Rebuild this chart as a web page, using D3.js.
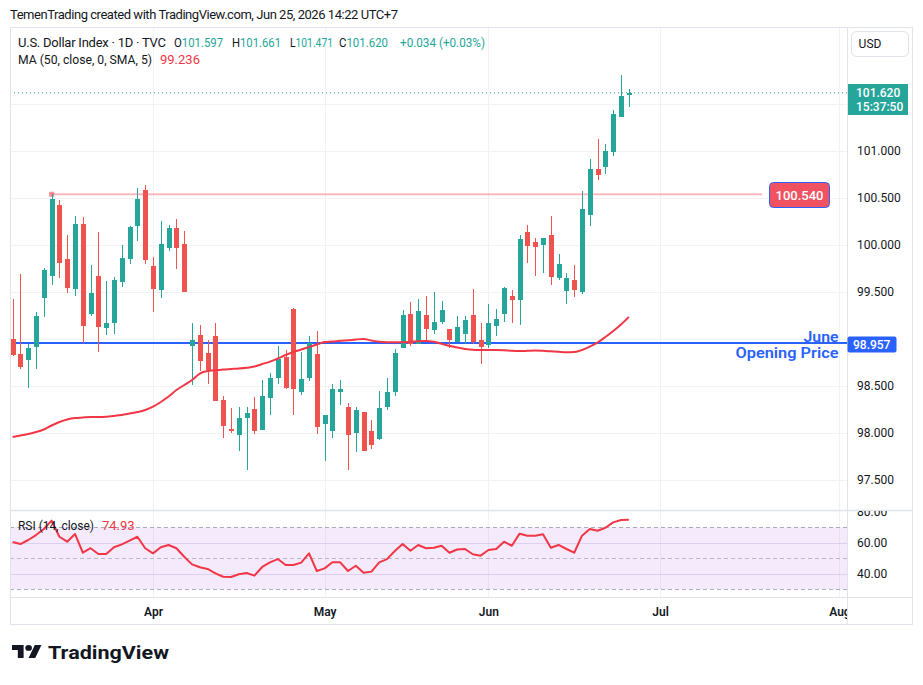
<!DOCTYPE html>
<html><head><meta charset="utf-8">
<script src="https://cdn.jsdelivr.net/npm/d3@7"></script>
<style>
body{margin:0;background:#fff}
svg{display:block}
text{font-family:Roboto,"Noto Sans",sans-serif}
</style>
</head><body>
<svg id="c" width="923" height="685"></svg>
<script>
// ---------------- DATA ----------------
const firstDay = "2026-03-06";
const lastDay = "2026-08-31";
const opens = [99.003,98.844,98.777,98.918,99.439,99.673,100.426,99.851,99.535,100.223,
99.269,99.670,99.120,99.173,99.610,99.854,100.205,100.585,99.777,99.525,
99.971,100.178,100.011,98.929,99.043,98.851,99.032,98.351,98.043,97.982,
98.163,98.255,98.032,98.376,98.588,98.809,99.319,98.440,98.588,98.840,
98.099,98.025,98.440,98.280,98.003,98.224,98.021,97.936,98.280,98.440,
98.908,99.266,98.944,99.255,99.096,99.181,99.106,98.971,99.053,99.255,
98.989,98.936,99.138,99.266,99.458,99.415,100.138,100.032,100.000,100.106,
99.649,99.514,99.628,99.500,100.319,100.809,100.830,100.989,101.362,101.597];
const highs = [99.425,99.692,98.944,99.287,99.755,100.540,100.479,100.106,100.309,100.298,
99.787,100.142,99.617,99.656,100.000,100.202,100.606,100.638,99.869,100.255,
100.213,100.277,100.149,99.167,99.149,98.989,99.167,98.394,98.269,98.277,
98.277,98.380,98.564,98.642,98.926,98.883,99.333,98.862,99.032,99.085,
98.192,98.521,98.564,98.316,98.280,98.224,98.138,98.447,98.585,98.894,
99.309,99.394,99.425,99.458,99.500,99.404,99.106,99.245,99.245,99.532,
99.167,99.372,99.319,99.553,99.521,100.106,100.213,100.075,100.075,100.309,
99.904,99.702,99.787,100.574,100.915,101.128,101.074,101.436,101.809,101.661];
const lows = [98.822,98.684,98.482,98.681,99.237,99.578,99.649,99.493,99.461,98.954,
99.248,98.865,99.043,99.053,99.557,99.801,100.046,99.801,99.291,99.439,
99.940,99.748,99.503,98.511,98.660,98.521,98.344,97.950,97.997,97.812,
97.606,97.989,98.032,98.192,98.521,98.465,98.192,98.404,98.556,97.989,
97.705,97.950,98.298,97.606,97.795,97.812,97.830,97.926,98.245,98.397,
98.908,98.929,98.944,98.979,99.053,99.160,98.904,98.971,98.947,98.947,
98.734,98.904,99.032,99.181,99.171,99.149,99.812,99.670,99.702,99.575,
99.628,99.372,99.447,99.479,100.202,100.691,100.755,100.947,101.362,101.471];
const closes = [98.830,98.705,98.908,99.245,99.734,100.489,99.812,99.546,100.223,99.142,
99.486,99.131,99.167,99.628,99.862,100.192,100.489,99.840,99.535,100.011,
100.178,99.971,99.503,98.986,98.769,98.670,98.344,98.078,98.025,98.160,
98.210,98.025,98.394,98.585,98.787,98.476,98.468,98.575,98.954,98.067,
98.192,98.468,98.468,97.982,98.245,97.812,97.876,98.266,98.436,98.851,
99.255,98.944,99.298,99.110,99.181,99.309,98.989,99.128,99.202,98.968,
98.918,99.167,99.213,99.543,99.415,100.064,99.989,99.979,100.075,99.663,
99.798,99.649,99.521,100.383,100.809,100.745,101.000,101.394,101.585,101.620];
const ma50 = [97.957,97.973,97.989,98.011,98.037,98.080,98.117,98.144,98.160,98.165,
98.170,98.170,98.173,98.181,98.191,98.207,98.223,98.245,98.280,98.330,
98.388,98.457,98.511,98.564,98.633,98.660,98.667,98.676,98.681,98.686,
98.694,98.707,98.734,98.759,98.793,98.830,98.862,98.888,98.915,98.941,
98.968,98.973,98.981,98.987,98.995,99.000,98.984,98.970,98.965,98.965,
98.966,98.971,98.977,98.979,98.970,98.950,98.928,98.909,98.894,98.885,
98.883,98.883,98.883,98.880,98.874,98.872,98.874,98.877,98.874,98.869,
98.864,98.860,98.862,98.883,98.920,98.963,99.021,99.085,99.154,99.236];
const rsi14 = [60.5,59.2,61.8,65.0,68.9,74.3,63.9,60.7,65.7,53.6,
56.5,52.8,52.8,57.1,59.0,61.4,63.9,56.5,53.2,57.1,
58.6,56.5,51.0,46.1,44.2,43.1,40.3,38.1,37.9,39.7,
40.5,38.8,44.4,47.4,49.5,45.7,45.7,47.2,53.2,41.8,
43.5,47.4,47.4,41.8,45.2,40.7,41.4,47.4,49.5,54.7,
59.2,54.9,58.6,56.5,56.8,58.1,53.6,55.7,56.0,52.6,
51.7,55.4,56.0,60.7,58.1,65.9,64.6,64.6,65.5,56.8,
58.6,56.0,53.6,64.6,68.9,67.8,69.7,73.2,74.7,74.93];
const priceGridTicks = [97.5,98,98.5,99,99.5,100,100.5,101,101.5];
const priceLabelTicks = [97.5,98,98.5,99.5,100,100.5,101];
const rsiGridTicks = [40,60];
const rsiLabelTicks = [40,60,80];
const rsiLevels = [70,50,30];
const monthTickDates = ["2026-04-01","2026-05-01","2026-06-01","2026-07-01","2026-08-03"];
const monthTickLabels = ["Apr","May","Jun","Jul","Aug"];
const juneOpen = 98.957;
const markedHigh = 100.540;
const markedHighBar = 5;
const lastPrice = 101.620;
const lastChange = 0.034;
const lastChangePct = 0.03;
const countdown = "15:37:50";

// ---------------- LAYOUT ----------------
const svg = d3.select("#c");
const L = 10, R = 847, FR = 912, TOP = 27.5, MB = 510, RT = 511, RB = 597, AB = 624.5;
const UP = "#26A69A", DN = "#EF5350", TXT = "#131722", GRID = "#F0F2F6", SEP = "#E0E3EB";

const days = [];
for (let d = new Date(firstDay + "T00:00:00Z"); d <= new Date(lastDay + "T00:00:00Z"); d = new Date(d.getTime() + 864e5)) {
  const wd = d.getUTCDay();
  if (wd > 0 && wd < 6) days.push(d.toISOString().slice(0, 10));
}
const idxOf = s => days.indexOf(s);

const x = d3.scaleLinear().domain([-0.333, 106.97]).range([L, R]);
const y = d3.scaleLinear().domain([97.181, 102.309]).range([MB, 28]);
const yr = d3.scaleLinear().domain([25.03, 80.52]).range([RB, RT]);

const defs = svg.append("defs");
defs.append("clipPath").attr("id", "mainClip").append("rect").attr("x", L).attr("y", 28).attr("width", R - L).attr("height", MB - 28);
defs.append("clipPath").attr("id", "rsiClip").append("rect").attr("x", L).attr("y", RT).attr("width", R - L).attr("height", RB - RT);
defs.append("clipPath").attr("id", "rsiAxClip").append("rect").attr("x", R).attr("y", RT).attr("width", FR - R).attr("height", RB - RT);
defs.append("clipPath").attr("id", "timeClip").append("rect").attr("x", L).attr("y", RB).attr("width", R - L).attr("height", AB - RB);

// header
svg.append("text").attr("x", 10).attr("y", 19).attr("font-size", 13).attr("fill", TXT)
  .attr("textLength", 388).text("TemenTrading created with TradingView.com, Jun 25, 2026 14:22 UTC+7");

// grid
const grid = svg.append("g");
grid.selectAll(".hg").data(priceGridTicks).join("line")
  .attr("x1", L).attr("x2", R).attr("y1", d => Math.round(y(d)) + 0.5).attr("y2", d => Math.round(y(d)) + 0.5)
  .attr("stroke", GRID);
const monthIdx = monthTickDates.map(idxOf);
grid.selectAll(".vg").data(monthIdx).join("line")
  .attr("x1", d => Math.round(x(d)) + 0.5).attr("x2", d => Math.round(x(d)) + 0.5)
  .attr("y1", 28).attr("y2", RB).attr("stroke", GRID);

// RSI pane
const rsiG = svg.append("g").attr("clip-path", "url(#rsiClip)");
rsiG.append("rect").attr("x", L).attr("width", R - L).attr("y", yr(70)).attr("height", yr(30) - yr(70))
  .attr("fill", "rgba(170,80,230,0.12)");
rsiG.selectAll(".rg").data(rsiGridTicks).join("line")
  .attr("x1", L).attr("x2", R).attr("y1", d => Math.round(yr(d)) + 0.5).attr("y2", d => Math.round(yr(d)) + 0.5)
  .attr("stroke", "rgba(200,185,225,0.55)");
rsiG.selectAll(".rl").data(rsiLevels).join("line")
  .attr("x1", L).attr("x2", R).attr("y1", d => Math.round(yr(d)) + 0.5).attr("y2", d => Math.round(yr(d)) + 0.5)
  .attr("stroke", d => d === 50 ? "rgba(120,123,134,0.45)" : "rgba(120,123,134,0.6)")
  .attr("stroke-dasharray", "4,3");
rsiG.append("path").datum(rsi14)
  .attr("d", d3.line().x((d, i) => x(i)).y(d => yr(d)))
  .attr("fill", "none").attr("stroke", "#F23645").attr("stroke-width", 2).attr("stroke-linejoin", "round");

// main pane drawings
const main = svg.append("g").attr("clip-path", "url(#mainClip)");
main.append("line").attr("x1", L).attr("x2", R).attr("y1", y(juneOpen)).attr("y2", y(juneOpen))
  .attr("stroke", "#2962FF").attr("stroke-width", 2);
main.append("line").attr("x1", x(markedHighBar)).attr("x2", 762).attr("y1", y(markedHigh)).attr("y2", y(markedHigh))
  .attr("stroke", "rgba(242,54,69,0.35)").attr("stroke-width", 2);
main.append("rect").attr("x", x(markedHighBar) - 2.5).attr("y", y(markedHigh) - 2.5).attr("width", 5).attr("height", 5)
  .attr("fill", "rgba(242,54,69,0.55)");
main.append("line").attr("x1", L).attr("x2", R).attr("y1", y(lastPrice)).attr("y2", y(lastPrice))
  .attr("stroke", UP).attr("stroke-dasharray", "1,3");

// candles
const candles = main.append("g").selectAll("g").data(opens.map((o, i) => ({i, o, h: highs[i], l: lows[i], c: closes[i]}))).join("g");
candles.append("rect")
  .attr("x", d => Math.round(x(d.i)))
  .attr("width", 1)
  .attr("y", d => y(d.h)).attr("height", d => y(d.l) - y(d.h))
  .attr("fill", d => d.c >= d.o ? UP : DN).attr("shape-rendering", "crispEdges");
candles.append("rect")
  .attr("x", d => Math.round(x(d.i)) - 2)
  .attr("width", 5)
  .attr("y", d => y(Math.max(d.o, d.c)))
  .attr("height", d => Math.max(1, Math.abs(y(d.o) - y(d.c))))
  .attr("fill", d => d.c >= d.o ? UP : DN).attr("shape-rendering", "crispEdges");

// MA line
main.append("path").datum(ma50)
  .attr("d", d3.line().x((d, i) => x(i)).y(d => y(d)).curve(d3.curveMonotoneX))
  .attr("fill", "none").attr("stroke", "#F23645").attr("stroke-width", 2);

// June opening price text
main.append("text").attr("x", 838.5).attr("y", 341.5).attr("text-anchor", "end").attr("font-size", 15).attr("font-weight", 600)
  .attr("fill", "#2962FF").attr("textLength", 35).attr("lengthAdjust", "spacingAndGlyphs").text("June");
main.append("text").attr("x", 838.5).attr("y", 357.5).attr("text-anchor", "end").attr("font-size", 15).attr("font-weight", 600)
  .attr("fill", "#2962FF").attr("textLength", 103).attr("lengthAdjust", "spacingAndGlyphs").text("Opening Price");

// marked high label
main.append("rect").attr("x", 769.5).attr("y", 182.5).attr("width", 60).attr("height", 25).attr("rx", 4)
  .attr("fill", "#F05262").attr("stroke", "#2962FF").attr("stroke-width", 1);
main.append("text").attr("x", 799.5).attr("y", 199.5).attr("text-anchor", "middle").attr("font-size", 13)
  .attr("font-weight", 500).attr("fill", "#fff").text(markedHigh.toFixed(3));

// frames / separators
const fr = svg.append("g").attr("fill", "none").attr("stroke", SEP);
fr.append("rect").attr("x", 10.5).attr("y", TOP).attr("width", FR - 10).attr("height", AB - TOP);
fr.append("line").attr("x1", R + 0.5).attr("x2", R + 0.5).attr("y1", TOP).attr("y2", AB);
fr.append("line").attr("x1", L).attr("x2", FR + 0.5).attr("y1", MB + 0.5).attr("y2", MB + 0.5).attr("stroke-width", 1.5);
fr.append("line").attr("x1", L).attr("x2", FR + 0.5).attr("y1", RB + 0.5).attr("y2", RB + 0.5);

// price axis
const pAx = svg.append("g").attr("transform", `translate(${R},0)`)
  .call(d3.axisRight(y).tickValues(priceLabelTicks).tickFormat(d3.format(".3f")).tickSize(0).tickPadding(10));
pAx.select(".domain").remove();
pAx.selectAll("text").attr("font-size", 12).attr("fill", TXT).attr("font-family", "Roboto");

// RSI axis
const rAx = svg.append("g").attr("clip-path", "url(#rsiAxClip)").append("g").attr("transform", `translate(${R},0)`)
  .call(d3.axisRight(yr).tickValues(rsiLabelTicks).tickFormat(d3.format(".2f")).tickSize(0).tickPadding(10));
rAx.select(".domain").remove();
rAx.selectAll("text").attr("font-size", 12).attr("fill", TXT).attr("font-family", "Roboto");

// time axis
const tAx = svg.append("g").attr("clip-path", "url(#timeClip)").append("g").attr("transform", `translate(0,${RB})`)
  .call(d3.axisBottom(x).tickValues(monthIdx).tickFormat((d, i) => monthTickLabels[i]).tickSize(0).tickPadding(10));
tAx.select(".domain").remove();
tAx.selectAll("text").attr("font-size", 12).attr("font-weight", 600).attr("fill", TXT).attr("font-family", "Roboto");

// axis labels (boxes)
svg.append("rect").attr("x", 851.5).attr("y", 31.5).attr("width", 57).attr("height", 25).attr("rx", 5)
  .attr("fill", "#fff").attr("stroke", SEP);
svg.append("text").attr("x", 870).attr("y", 48).attr("text-anchor", "middle").attr("font-size", 12).attr("fill", TXT).text("USD");

svg.append("rect").attr("x", 848).attr("y", 84).attr("width", 60).attr("height", 31).attr("fill", UP);
svg.append("text").attr("x", 856).attr("y", 97).attr("font-size", 12).attr("font-weight", 500).attr("fill", "#fff").text(lastPrice.toFixed(3));
svg.append("text").attr("x", 856).attr("y", 111).attr("font-size", 12).attr("font-weight", 500).attr("fill", "#fff").text(countdown);

svg.append("rect").attr("x", 847.5).attr("y", 336.5).attr("width", 49).attr("height", 16).attr("rx", 2).attr("fill", "#2962FF");
svg.append("text").attr("x", 853).attr("y", 348.5).attr("font-size", 12).attr("font-weight", 500).attr("fill", "#fff").text(juneOpen.toFixed(3));

// legends
svg.append("text").attr("x", 18).attr("y", 47).attr("font-size", 13).attr("fill", TXT).attr("textLength", 148)
  .text("U.S. Dollar Index · 1D · TVC");
const ohlc = [["O", opens[79], 174, 49, 13], ["H", highs[79], 232, 49, 13], ["L", lows[79], 290, 43, 12], ["C", closes[79], 339, 49, 13]];
ohlc.forEach(([k, v, px, w, fs]) => {
  const t = svg.append("text").attr("x", px).attr("y", 47).attr("font-size", fs).attr("textLength", w).attr("lengthAdjust", "spacingAndGlyphs");
  t.append("tspan").attr("fill", TXT).text(k);
  t.append("tspan").attr("fill", UP).text(v.toFixed(3));
});
svg.append("text").attr("x", 400).attr("y", 47).attr("font-size", 13).attr("fill", UP)
  .attr("textLength", 85).attr("lengthAdjust", "spacingAndGlyphs")
  .text(`+${lastChange.toFixed(3)} (+${lastChangePct.toFixed(2)}%)`);
svg.append("text").attr("x", 18).attr("y", 64).attr("font-size", 13).attr("fill", TXT)
  .attr("textLength", 134).attr("lengthAdjust", "spacingAndGlyphs").text("MA (50, close, 0, SMA, 5)");
svg.append("text").attr("x", 160).attr("y", 64).attr("font-size", 13).attr("fill", "#F23645").text(ma50[79].toFixed(3));
svg.append("text").attr("x", 18).attr("y", 530).attr("font-size", 13).attr("fill", TXT)
  .attr("textLength", 76).attr("lengthAdjust", "spacingAndGlyphs").text("RSI (14, close)");
svg.append("text").attr("x", 102).attr("y", 530).attr("font-size", 13).attr("fill", "#F23645").text(rsi14[79].toFixed(2));

// TradingView logo
const logo = svg.append("g").attr("transform", "translate(12,645) scale(0.83,0.72) translate(0,-4)").attr("fill", TXT);
logo.append("path").attr("d", "M14 22H7V11H0V4h14v18zM28 22h-8l7.5-18h8L28 22z");
logo.append("circle").attr("cx", 20).attr("cy", 8).attr("r", 4);
svg.append("text").attr("x", 48).attr("y", 659).attr("font-size", 18).attr("font-weight", 700).attr("fill", TXT)
  .attr("textLength", 121).attr("lengthAdjust", "spacingAndGlyphs").text("TradingView");
</script>
</body></html>
